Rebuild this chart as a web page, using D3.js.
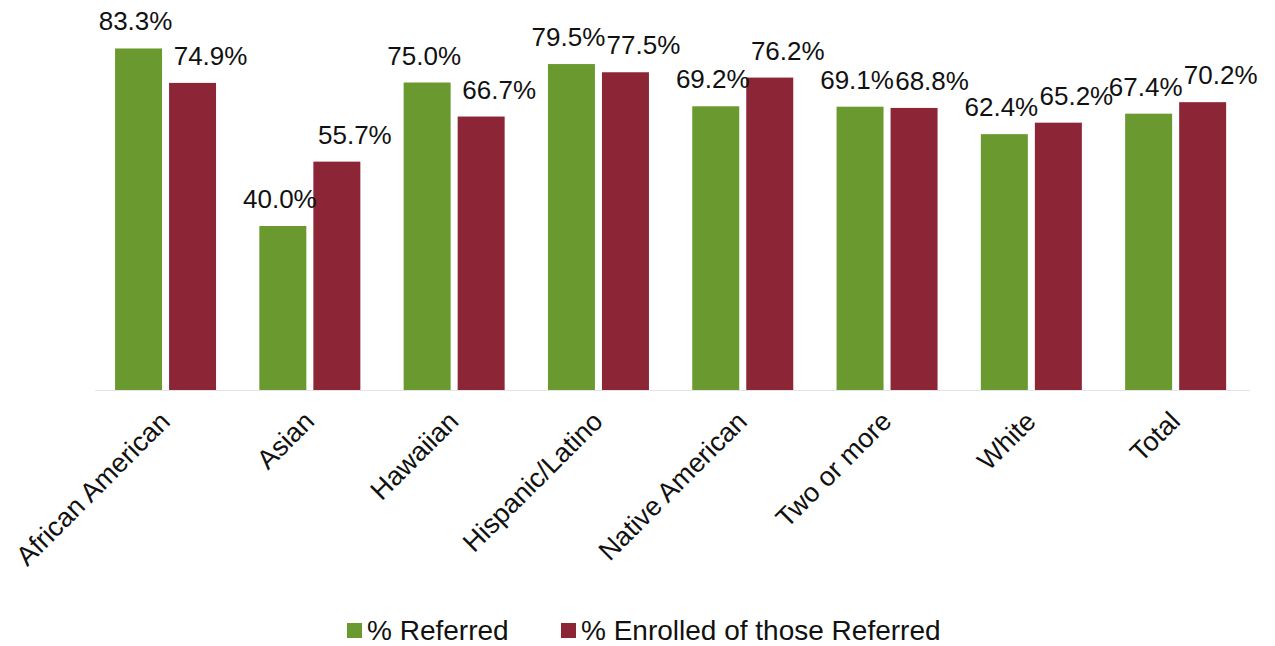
<!DOCTYPE html>
<html lang="en">
<head>
  <meta charset="UTF-8">
  <title>Referred and Enrolled by Race/Ethnicity</title>
  <style>
    body { margin: 0; background: #fff; }
    text { font-family: "Liberation Sans", Arial, sans-serif; fill: #111; }
    .value { font-size: 26px; }
    .cat { font-size: 27px; }
    .legend text { font-size: 28px; }
  </style>
  <script src="https://d3js.org/d3.v7.min.js"></script>
</head>
<body>
<div id="chart"></div>
<script>
  // Data
  var categories = ["African American", "Asian", "Hawaiian", "Hispanic/Latino",
                    "Native American", "Two or more", "White", "Total"];
  var referred = [83.3, 40.0, 75.0, 79.5, 69.2, 69.1, 62.4, 67.4];
  var enrolled = [74.9, 55.7, 66.7, 77.5, 76.2, 68.8, 65.2, 70.2];
  var seriesNames = ["% Referred", "% Enrolled of those Referred"];
  var colors = ["#6a9a2f", "#8c2637"];

  var width = 1275, height = 646;
  var baseline = 390;

  var svg = d3.select("#chart").append("svg")
    .attr("width", width)
    .attr("height", height);

  var x = d3.scaleBand()
    .domain(categories)
    .range([93.4, 1247.8])
    .paddingInner(0.3)
    .paddingOuter(0.15);

  var xs = d3.scaleBand()
    .domain([0, 1])
    .range([0, x.bandwidth()])
    .paddingInner(0.13);

  var y = d3.scaleLinear()
    .domain([0, 100])
    .range([baseline, baseline - 410]);

  var rows = categories.map(function (c, i) {
    return { cat: c, values: [referred[i], enrolled[i]] };
  });

  // faint axis line
  svg.append("line")
    .attr("x1", 95).attr("x2", 1250)
    .attr("y1", baseline + 0.5).attr("y2", baseline + 0.5)
    .attr("stroke", "#e4e4e4")
    .attr("stroke-width", 1);

  var groups = svg.append("g")
    .selectAll("g")
    .data(rows)
    .enter().append("g")
    .attr("transform", d => "translate(" + x(d.cat) + ",0)");

  groups.selectAll("rect")
    .data(d => d.values.map((v, k) => ({ v: v, k: k })))
    .enter().append("rect")
    .attr("x", d => xs(d.k))
    .attr("width", xs.bandwidth())
    .attr("y", d => y(d.v))
    .attr("height", d => baseline - y(d.v))
    .attr("fill", d => colors[d.k]);

  // value labels
  groups.selectAll("text.value")
    .data(d => d.values.map((v, k) => ({ v: v, k: k })))
    .enter().append("text")
    .attr("class", "value")
    .attr("text-anchor", "middle")
    .attr("x", d => xs(d.k) + xs.bandwidth() / 2 + (d.k === 1 ? 18 : -3))
    .attr("y", d => y(d.v) - 18)
    .text(d => d.v.toFixed(1) + "%");

  // category labels, rotated
  svg.append("g")
    .selectAll("text")
    .data(categories)
    .enter().append("text")
    .attr("class", "cat")
    .attr("text-anchor", "end")
    .attr("transform", d => "translate(" + (x(d) + x.bandwidth() / 2 + 6) + "," + (baseline + 33) + ") rotate(-45)")
    .text(d => d);

  // legend
  var legend = svg.append("g").attr("class", "legend");
  var legendX = [347, 561];
  seriesNames.forEach(function (name, k) {
    legend.append("rect")
      .attr("x", legendX[k]).attr("y", 623)
      .attr("width", 15).attr("height", 15)
      .attr("fill", colors[k]);
    legend.append("text")
      .attr("x", legendX[k] + 20).attr("y", 640)
      .text(name);
  });
</script>
</body>
</html>
